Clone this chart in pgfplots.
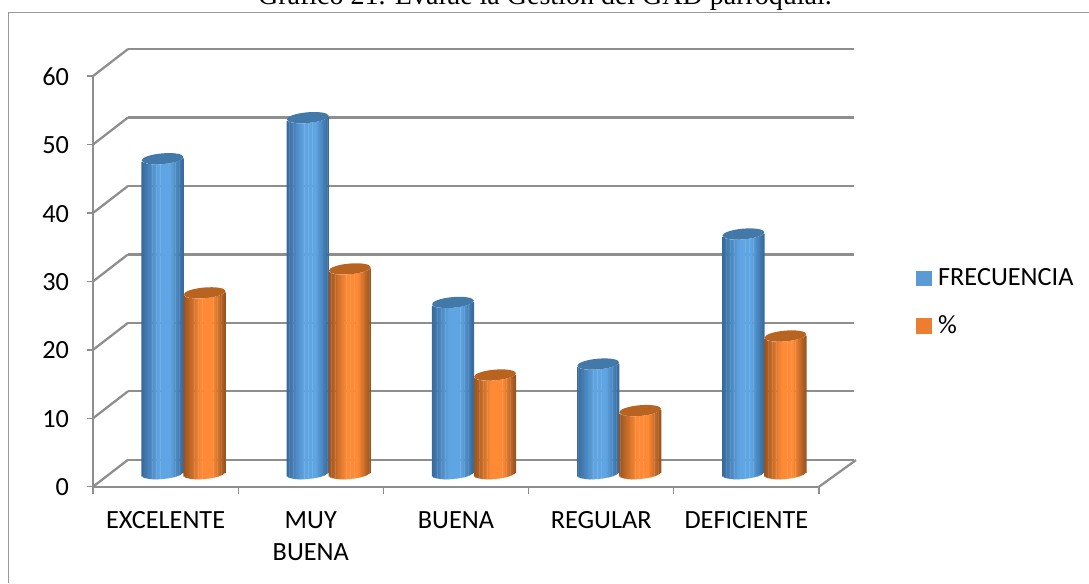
\documentclass[border=0pt]{standalone}
\usepackage{fontspec}
\setmainfont{Carlito}
\newfontfamily\titlefont{Liberation Serif}
\usepackage{pgfplots}
\usepackage{pgfplotstable}
\usetikzlibrary{shapes.geometric}
\pgfplotsset{compat=1.18}

\definecolor{gridgray}{HTML}{8E8E8E}
\definecolor{frameg}{HTML}{999999}
\definecolor{blueL}{HTML}{5FA5E3}
\definecolor{blueD}{HTML}{36689A}
\definecolor{blueT}{HTML}{4379A9}
\definecolor{oranL}{HTML}{FF8A35}
\definecolor{oranD}{HTML}{96521F}
\definecolor{oranT}{HTML}{B8631F}
\definecolor{legblue}{HTML}{5B9BD5}
\definecolor{legoran}{HTML}{ED7D31}

\pgfplotstableread{
pos freq pct
0 46 26.4
1 52 29.9
2 25 14.4
3 16 9.2
4 35 20.1
}\datatable

% one cylinder: centre shift (pt), value column, light, dark, top colour
% body is narrow bars, each dropped to the front arc of the rim
\newcommand{\cylinder}[5]{
  \foreach \i in {0,...,30}{
    \pgfmathsetmacro\t{(\i+0.5)/31}
    \pgfmathsetmacro\off{#1-15.75+31.5*\t}
    \pgfmathsetmacro\drop{9.9-4.1*sqrt(1-(2*\t-1)^2)+1.4*(2*\t-1)}
    \pgfmathtruncatemacro\pc{100*min(1,\t/0.42)*min(1,(1-\t)/0.3)}
    \edef\temp{\noexpand\addplot[forget plot, ybar, draw=none, bar width=1.25pt,
      xshift=\off pt, yshift=\drop pt, fill=#3!\pc!#4]
      table[x=pos, y=#2] {\noexpand\datatable};}
    \temp
  }
  % top rim
  \addplot[forget plot, only marks, mark=none,
    xshift=#1pt, yshift=9.9pt,
    nodes near coords={},
    nodes near coords align={center},
    every node near coord/.style={ellipse, inner sep=0pt, rotate=5,
      minimum width=31.5pt, minimum height=8pt, anchor=center, fill=#5}]
    table[x=pos, y=#2] {\datatable};
}

\begin{document}
\begin{tikzpicture}
\useasboundingbox (0,0) rectangle (816.75pt,437.25pt);
\coordinate (org) at (69.75pt,72.2pt);
\draw[frameg, line width=0.9pt] (6.4pt,0pt) -- (6.4pt,427.9pt) -- (816.75pt,427.9pt);
\node[anchor=base, inner sep=0pt, font=\titlefont\fontsize{21}{24}\selectfont] at (408.75pt,433.5pt)
  {Gráfico 21. Evalúe la Gestión del GAD parroquial.};
\begin{axis}[
    at={(org)}, anchor=south west,
    scale only axis, width=544.5pt, height=308pt,
    xmin=-0.5, xmax=4.5, ymin=0, ymax=60,
    axis x line=bottom, axis y line=left,
    axis line style={-, gridgray, line width=1.7pt},
    clip=false,
    tick align=outside,
    xtick={0,1,2,3,4},
    xticklabels={EXCELENTE,{MUY\\BUENA},BUENA,REGULAR,DEFICIENTE},
    minor xtick={-0.5,0.5,1.5,2.5,3.5,4.5},
    ytick={0,10,...,60},
    major x tick style={draw=none},
    minor x tick style={gridgray, line width=1pt},
    major y tick style={gridgray, line width=1pt},
    major tick length=4.5pt, minor tick length=5.5pt,
    tick label style={font=\fontsize{19.7}{24.3}\selectfont},
    /pgf/number format/assume math mode=true,
    typeset ticklabels with strut,
    xticklabel style={align=center, yshift=-6pt},
    yticklabel style={xshift=-10pt, yshift=-2pt},
    legend style={at={(1.134,0.538)}, anchor=north west, draw=none, fill=none,
      font=\fontsize{19.7}{24}\selectfont, row sep=17.2pt, inner sep=0pt,
      /tikz/column 1/.style={column sep=3pt}},
    legend cell align=left,
]
% back wall and floor
\pgfplotsinvokeforeach{0,10,...,60}{
  \addplot[forget plot, gridgray, line width=1.7pt, xshift=26.25pt, yshift=20.25pt]
    coordinates {(-0.5,#1) (4.5,#1)};
  \draw[gridgray, line width=1.7pt] (axis cs:-0.5,#1) -- ++(26.25pt,20.25pt);
}
\draw[gridgray, line width=1.7pt] (axis cs:4.5,0) -- ++(27.75pt,20pt);

\cylinder{-2.25}{freq}{blueL}{blueD}{blueT}
\cylinder{29.25}{pct}{oranL}{oranD}{oranT}

\addlegendimage{only marks, mark=square*, mark size=5.6pt, color=legblue}
\addlegendentry{FRECUENCIA}
\addlegendimage{only marks, mark=square*, mark size=5.6pt, color=legoran}
\addlegendentry{\%}
\end{axis}
\end{tikzpicture}
\end{document}
